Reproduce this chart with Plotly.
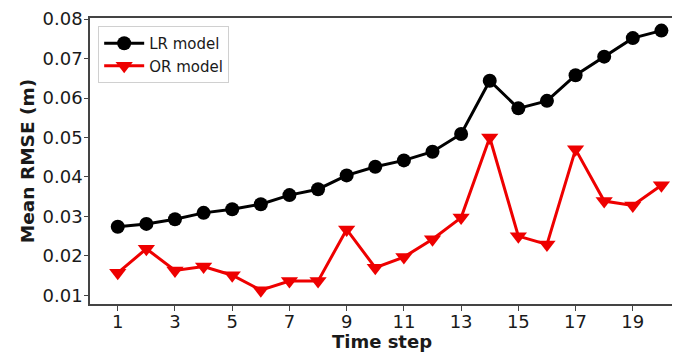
import plotly.graph_objects as go

time_steps = list(range(1, 21))
lr_model = [0.0274, 0.0281, 0.0293, 0.0309, 0.0318, 0.0331, 0.0354, 0.0369, 0.0404, 0.0426,
            0.0442, 0.0464, 0.0509, 0.0644, 0.0574, 0.0593, 0.0658, 0.0705, 0.0752, 0.0771]
or_model = [0.0157, 0.0218, 0.0163, 0.0173, 0.0151, 0.0113, 0.0136, 0.0136, 0.0267, 0.0170,
            0.0197, 0.0242, 0.0297, 0.0500, 0.0250, 0.0229, 0.0470, 0.0339, 0.0328, 0.0379]
x_ticks = [1, 3, 5, 7, 9, 11, 13, 15, 17, 19]
y_ticks = [0.01, 0.02, 0.03, 0.04, 0.05, 0.06, 0.07, 0.08]

fig = go.Figure()
fig.add_trace(go.Scatter(x=time_steps, y=lr_model, mode="lines+markers", name="LR model",
                         line=dict(color="black", width=3),
                         marker=dict(symbol="circle", size=14, color="black")))
fig.add_trace(go.Scatter(x=time_steps, y=or_model, mode="lines+markers", name="OR model",
                         line=dict(color="#ee0000", width=3),
                         marker=dict(symbol="triangle-down", size=15, color="#ee0000")))

font = "DejaVu Sans"
fig.update_layout(
    width=672, height=344,
    margin=dict(l=82, r=6, t=10, b=48),
    plot_bgcolor="white", paper_bgcolor="white",
    font=dict(family=font, size=18, color="#1a1a1a"),
    showlegend=True,
    legend=dict(x=0.014, y=0.972, xanchor="left", yanchor="top",
                bgcolor="white", bordercolor="#d0d0d0", borderwidth=1,
                font=dict(family=font, size=15, color="#1a1a1a"),
                itemwidth=40, tracegroupgap=0),
    xaxis=dict(range=[0.03, 20.44], tickvals=x_ticks, showgrid=False, zeroline=False,
               showline=True, linecolor="#444", linewidth=1.5, mirror=True,
               ticks="outside", ticklen=5, tickcolor="#444", automargin=False,
               ticklabelstandoff=-4,
               tickfont=dict(family=font, size=18, color="#1a1a1a"),
               title=dict(text="<b>Time step</b>", font=dict(family=font, size=18, color="#1a1a1a"), standoff=10)),
    yaxis=dict(range=[0.0078, 0.0803], tickvals=y_ticks, tickformat=".2f", showgrid=False, zeroline=False,
               showline=True, linecolor="#444", linewidth=1.5, mirror=True,
               ticks="outside", ticklen=4, tickcolor="#444", automargin=False,
               ticklabelstandoff=-2,
               tickfont=dict(family=font, size=18, color="#1a1a1a"),
               title=dict(text="<b>Mean RMSE (m)</b>", font=dict(family=font, size=18.5, color="#1a1a1a"), standoff=3)),
)

fig.write_html("out.html")
